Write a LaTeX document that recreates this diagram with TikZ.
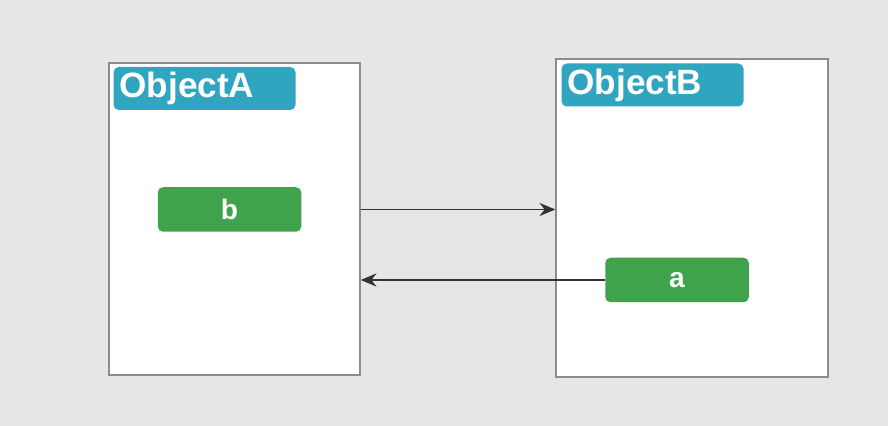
\documentclass[tikz,border=0pt]{standalone}
\usepackage{fontspec}
\setmainfont{Liberation Sans}
\usetikzlibrary{arrows.meta}
\definecolor{bg}{HTML}{E6E6E6}
\definecolor{frame}{HTML}{8C8C8C}
\definecolor{titleblue}{HTML}{30A5BF}
\definecolor{vargreen}{HTML}{3FA34B}
\definecolor{wire}{HTML}{333333}

\tikzset{
  objbox/.style={draw=frame, fill=white, line width=0.8pt, inner sep=0pt},
  titlebox/.style={fill=titleblue, text=white, rounded corners=3pt, inner xsep=0.12cm, inner ysep=0pt,
    text width=3.4cm, minimum height=0.86cm, align=left, font=\fontsize{20}{21}\selectfont\bfseries},
  varbox/.style={fill=vargreen, text=white, rounded corners=3pt, minimum width=2.87cm, minimum height=0.89cm,
    inner sep=0pt, font=\fontsize{16}{18}\selectfont\bfseries},
  arr/.style={draw=wire, line width=0.7pt, -{Stealth[length=9pt,width=7.5pt]}}
}

\begin{document}
\begin{tikzpicture}
        \fill[bg] (0,0) rectangle (17.76,8.52);
        \node[objbox, minimum width=5.02cm, minimum height=6.24cm] (objA) at (4.69,4.14) {};
        \node[objbox, minimum width=5.44cm, minimum height=6.36cm] (objB) at (13.84,4.16) {};
        \node[titlebox] (titleA) at (4.09,6.75) {ObjectA};
        \node[titlebox] (titleB) at (13.05,6.82) {ObjectB};
        \node[varbox] (varB) at (4.59,4.33) {b};
        \node[varbox] (varA) at (13.54,2.92) {a};
        
        
        \draw[arr] (varB -| objA.east) -- (varB -| objB.west);
        \draw[arr] (varA.west) -- (varA -| objA.east);
        \end{tikzpicture}
\end{document}
